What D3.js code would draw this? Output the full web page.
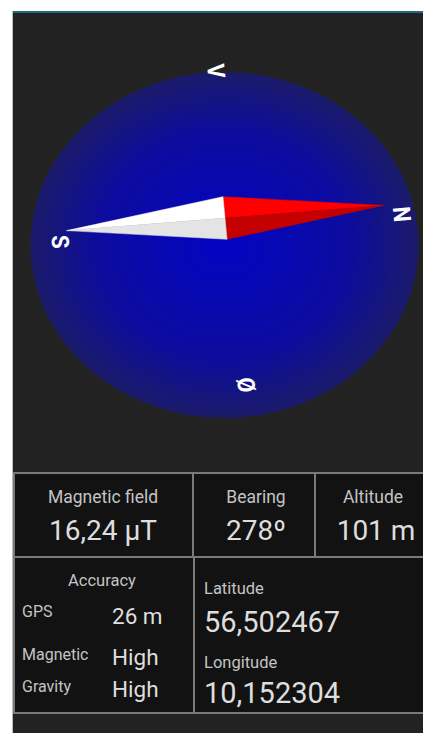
<!DOCTYPE html>
<html>
<head>
<meta charset="utf-8">
<script src="https://cdn.jsdelivr.net/npm/d3@7"></script>
<style>
  html, body { margin: 0; padding: 0; background: #fff; }
  svg { display: block; font-family: Roboto, "Noto Sans", sans-serif; }
</style>
</head>
<body>
<svg id="chart" width="423" height="733"></svg>
<script>
// data
const bearing = 278;       // true bearing shown in the panel
const declination = 3;     // magnetic declination (needle points to magnetic north)
const headings = ['N', 'Ø', 'S', 'V'];
const headingAngles = [0, 90, 180, 270];

const topLabels = ['Magnetic field', 'Bearing', 'Altitude'];
const topValues = ['16,24 µT', '278º', '101 m'];

const accuracyTitle = 'Accuracy';
const accuracyLabels = ['GPS', 'Magnetic', 'Gravity'];
const accuracyValues = ['26 m', 'High', 'High'];

const coordLabels = ['Latitude', 'Longitude'];
const coordValues = ['56,502467', '10,152304'];

// layout
const W = 423, H = 733;
const panel = { x: 13, y: 11 };
const dial = { cx: 224.5, cy: 245, rx: 194, ry: 173 };
const pivot = { x: 225, y: 218 };
const squash = 0.91;
const labelRing = { cx: 230.5, cy: 228, rx: 171.5, ry: 157.5 };
const needleLen = 159, needleHalfW = 23.5;

const svg = d3.select('#chart');

// dark app background + teal top line
svg.append('rect').attr('x', panel.x).attr('y', panel.y)
  .attr('width', W - panel.x).attr('height', H - panel.y).attr('fill', '#222222');
svg.append('rect').attr('x', panel.x).attr('y', panel.y)
  .attr('width', W - panel.x).attr('height', 2).attr('fill', '#1f6c7a');
svg.append('rect').attr('x', panel.x - 1).attr('y', panel.y)
  .attr('width', 1).attr('height', H - panel.y).attr('fill', '#bbbbbb');

// 1 dial
const defs = svg.append('defs');
const grad = defs.append('radialGradient').attr('id', 'dialGrad');
grad.append('stop').attr('offset', '0%').attr('stop-color', '#0404c4');
grad.append('stop').attr('offset', '65%').attr('stop-color', '#0c0c9e');
grad.append('stop').attr('offset', '100%').attr('stop-color', '#1b1b6a');

svg.append('ellipse')
  .attr('cx', dial.cx).attr('cy', dial.cy)
  .attr('rx', dial.rx).attr('ry', dial.ry)
  .attr('fill', 'url(#dialGrad)');

// rotation of the rose: north turns by -(magnetic heading)
const rad = d3.scaleLinear().domain([0, 360]).range([0, 2 * Math.PI]);
const rotation = (360 - (bearing - declination)) % 360;

// 2 needle
const needle = svg.append('g')
  .attr('transform', `translate(${pivot.x},${pivot.y}) scale(1,${squash}) rotate(${rotation})`);

const halves = [
  { pts: [[0, -needleLen], [-needleHalfW, 0], [0, 0]], fill: '#ff0000' },
  { pts: [[0, -needleLen], [needleHalfW, 0], [0, 0]], fill: '#c40000' },
  { pts: [[0, needleLen], [-needleHalfW, 0], [0, 0]], fill: '#ffffff' },
  { pts: [[0, needleLen], [needleHalfW, 0], [0, 0]], fill: '#e4e4e4' }
];
needle.selectAll('path').data(halves).join('path')
  .attr('d', d => d3.line()(d.pts) + 'Z')
  .attr('fill', d => d.fill)
  .attr('stroke', d => d.fill)
  .attr('stroke-width', 0.5);

// 3 heading letters
svg.selectAll('text.heading').data(headings).join('text')
  .attr('class', 'heading')
  .attr('transform', (d, i) => {
    const a = rad(headingAngles[i] + rotation);
    const x = labelRing.cx + labelRing.rx * Math.sin(a);
    const y = labelRing.cy - labelRing.ry * Math.cos(a);
    return `translate(${x},${y}) scale(1,${squash}) rotate(${rotation})`;
  })
  .attr('text-anchor', 'middle')
  .attr('dominant-baseline', 'central')
  .attr('fill', '#ffffff')
  .attr('font-size', 24)
  .attr('font-weight', 'bold')
  .text(d => d);

// 4 info grid
const gridTop = 473, gridMid = 557, gridBot = 713;
const topCols = [panel.x, 193, 315, W];
const botCols = [panel.x, 194, W];
const line = '#7a7a7a';

svg.append('rect').attr('x', panel.x).attr('y', gridTop)
  .attr('width', W - panel.x).attr('height', gridBot - gridTop).attr('fill', '#121212');

const hLines = [gridTop, gridMid, gridBot];
svg.selectAll('line.h').data(hLines).join('line')
  .attr('x1', panel.x).attr('x2', W).attr('y1', d => d).attr('y2', d => d)
  .attr('stroke', line).attr('stroke-width', 2);
svg.append('line').attr('x1', panel.x + 1).attr('x2', panel.x + 1)
  .attr('y1', gridTop).attr('y2', gridBot).attr('stroke', line).attr('stroke-width', 2);
svg.selectAll('line.vt').data(topCols.slice(1, -1)).join('line')
  .attr('class', 'vt')
  .attr('x1', d => d).attr('x2', d => d).attr('y1', gridTop).attr('y2', gridMid)
  .attr('stroke', line).attr('stroke-width', 2);
svg.selectAll('line.vb').data(botCols.slice(1, -1)).join('line')
  .attr('class', 'vb')
  .attr('x1', d => d).attr('x2', d => d).attr('y1', gridMid).attr('y2', gridBot)
  .attr('stroke', line).attr('stroke-width', 2);

const labelColor = '#c4c4c4', valueColor = '#dedede';

// top row cells
const topCenters = [103, 256, 373];
svg.selectAll('text.topLabel').data(topLabels).join('text')
  .attr('class', 'topLabel')
  .attr('x', (d, i) => topCenters[i]).attr('y', 503)
  .attr('text-anchor', 'middle').attr('font-size', 17.5).attr('fill', labelColor)
  .text(d => d);
svg.selectAll('text.topValue').data(topValues).join('text')
  .attr('class', 'topValue')
  .attr('x', (d, i) => topCenters[i] + (i === 2 ? 3 : 0)).attr('y', 540)
  .attr('text-anchor', 'middle').attr('font-size', 28).attr('fill', valueColor)
  .text(d => d);

// accuracy cell
svg.append('text').attr('x', 102).attr('y', 586)
  .attr('text-anchor', 'middle').attr('font-size', 16.5).attr('fill', labelColor)
  .text(accuracyTitle);
const accY = [617, 660, 692];
svg.selectAll('text.accLabel').data(accuracyLabels).join('text')
  .attr('class', 'accLabel')
  .attr('x', 22).attr('y', (d, i) => accY[i])
  .attr('font-size', 16).attr('fill', labelColor)
  .text(d => d);
svg.selectAll('text.accValue').data(accuracyValues).join('text')
  .attr('class', 'accValue')
  .attr('x', 112).attr('y', (d, i) => accY[i] + (i === 0 ? 7 : 5))
  .attr('font-size', 22.5).attr('fill', valueColor)
  .text(d => d);

// coordinates cell
const coordLabelY = [594, 668], coordValueY = [632, 703];
svg.selectAll('text.coordLabel').data(coordLabels).join('text')
  .attr('class', 'coordLabel')
  .attr('x', 204).attr('y', (d, i) => coordLabelY[i])
  .attr('font-size', 16.5).attr('fill', labelColor)
  .text(d => d);
svg.selectAll('text.coordValue').data(coordValues).join('text')
  .attr('class', 'coordValue')
  .attr('x', 204).attr('y', (d, i) => coordValueY[i])
  .attr('font-size', 29).attr('fill', valueColor)
  .text(d => d);
</script>
</body>
</html>
